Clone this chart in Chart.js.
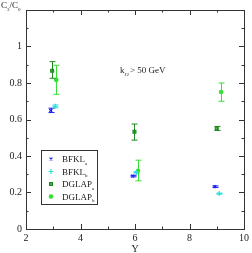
<!DOCTYPE html>
<html>
<head>
<meta charset="utf-8">
<script src="https://cdn.jsdelivr.net/npm/chart.js@4"></script>
<style>
  html, body { margin: 0; padding: 0; background: #fff; }
  #wrap { width: 252px; height: 253px; }
</style>
</head>
<body>
<div id="wrap"><canvas id="c" width="252" height="253"></canvas></div>
<script>
// données
const xBFKLa = [2.91, 5.92, 8.93];
const yBFKLa = [0.650, 0.290, 0.232];
const eBFKLa = [0.012, 0.004, 0.004];

const xBFKLb = [3.07, 6.05, 9.09];
const yBFKLb = [0.672, 0.310, 0.194];
const eBFKLb = [0.008, 0.004, 0.003];

const xDGLAPa = [2.96, 5.98, 9.00];
const yDGLAPa = [0.867, 0.533, 0.551];
const hiDGLAPa = [0.917, 0.575, 0.562];
const loDGLAPa = [0.826, 0.487, 0.540];

const xDGLAPb = [3.11, 6.11, 9.16];
const yDGLAPb = [0.817, 0.319, 0.751];
const hiDGLAPb = [0.897, 0.377, 0.800];
const loDGLAPb = [0.738, 0.264, 0.700];

const xTicks = [2, 4, 6, 8, 10];
const yTicks = [0, 0.2, 0.4, 0.6, 0.8, 1];

const FONT = '"Liberation Serif", "DejaVu Serif", serif';

function pts(xs, ys, hi, lo) {
  return xs.map((x, i) => ({ x: x, y: ys[i], hi: hi[i], lo: lo[i] }));
}

const series = [
  { name: 'BFKL', sub: 'a', color: '#1a1aff', fill: '#1a1aff', style: 'crossRot', r: 2,
    data: pts(xBFKLa, yBFKLa, yBFKLa.map((v, i) => v + eBFKLa[i]), yBFKLa.map((v, i) => v - eBFKLa[i])) },
  { name: 'BFKL', sub: 'b', color: '#33dddd', fill: '#33dddd', style: 'cross', r: 2.5,
    data: pts(xBFKLb, yBFKLb, yBFKLb.map((v, i) => v + eBFKLb[i]), yBFKLb.map((v, i) => v - eBFKLb[i])) },
  { name: 'DGLAP', sub: 'a', color: '#1f8a1f', fill: '#66b866', style: 'rect', r: 2,
    data: pts(xDGLAPa, yDGLAPa, hiDGLAPa, loDGLAPa) },
  { name: 'DGLAP', sub: 'b', color: '#33e033', fill: '#33e033', style: 'circle', r: 1.7,
    data: pts(xDGLAPb, yDGLAPb, hiDGLAPb, loDGLAPb) }
];

// texte avec indice
function subText(ctx, x, y, main, sub, size) {
  ctx.font = size + 'px ' + FONT;
  ctx.fillText(main, x, y);
  const w = ctx.measureText(main).width;
  ctx.font = Math.round(size * 0.6) + 'px ' + FONT;
  ctx.fillText(sub, x + w, y + size * 0.3);
  return w + ctx.measureText(sub).width;
}

const decor = {
  id: 'decor',
  afterDatasetsDraw(chart) {
    const ctx = chart.ctx;
    const xs = chart.scales.x, ys = chart.scales.y;
    const a = chart.chartArea;

    // barres d'erreur
    chart.data.datasets.forEach((ds) => {
      ctx.save();
      ctx.strokeStyle = ds.borderColor;
      ctx.lineWidth = 1;
      ds.data.forEach(p => {
        const px = Math.round(xs.getPixelForValue(p.x)) + 0.5;
        const yh = ys.getPixelForValue(p.hi);
        const yl = ys.getPixelForValue(p.lo);
        ctx.beginPath();
        ctx.moveTo(px, yh); ctx.lineTo(px, yl);
        ctx.moveTo(px - 3, yh); ctx.lineTo(px + 3, yh);
        ctx.moveTo(px - 3, yl); ctx.lineTo(px + 3, yl);
        ctx.stroke();
      });
      ctx.restore();
    });

    // cadre et graduations internes
    ctx.save();
    ctx.strokeStyle = '#333';
    ctx.lineWidth = 1;
    ctx.strokeRect(Math.round(a.left) + 0.5, Math.round(a.top) + 0.5,
      Math.round(a.right - a.left), Math.round(a.bottom - a.top));
    ctx.beginPath();
    for (let v = 2; v <= 10; v += 1) {
      const px = Math.round(xs.getPixelForValue(v)) + 0.5;
      const len = v % 2 === 0 ? 5 : 2.5;
      ctx.moveTo(px, a.bottom); ctx.lineTo(px, a.bottom - len);
      ctx.moveTo(px, a.top); ctx.lineTo(px, a.top + len);
    }
    for (let k = 0; k <= 12; k++) {
      const py = Math.round(ys.getPixelForValue(k / 10)) + 0.5;
      const len = k % 2 === 0 ? 5 : 2.5;
      ctx.moveTo(a.left, py); ctx.lineTo(a.left + len, py);
      ctx.moveTo(a.right, py); ctx.lineTo(a.right - len, py);
    }
    ctx.stroke();

    // titres
    ctx.fillStyle = '#222';
    ctx.textBaseline = 'alphabetic';
    ctx.textAlign = 'left';
    let w = subText(ctx, 1, 8, 'C', '3', 9);
    ctx.font = '9px ' + FONT;
    ctx.fillText('/', 1 + w, 8);
    const w2 = ctx.measureText('/').width;
    subText(ctx, 1 + w + w2, 8, 'C', '0', 9);

    ctx.font = '10px ' + FONT;
    ctx.textAlign = 'center';
    ctx.fillText('Y', (a.left + a.right) / 2, 252);
    ctx.textAlign = 'left';

    // annotation
    let aw = subText(ctx, 120, 73, 'k', 'J', 9);
    ctx.font = '5px ' + FONT;
    ctx.fillText('2', 120 + aw, 76);
    ctx.font = '9px ' + FONT;
    ctx.fillText('> 50 GeV', 130, 73);

    // légende
    ctx.strokeStyle = '#333';
    ctx.fillStyle = '#fff';
    ctx.fillRect(41.5, 150.5, 56, 54);
    ctx.strokeRect(41.5, 150.5, 56, 54);
    const rows = [159, 171.5, 184, 196.5];
    series.forEach((s, i) => {
      ctx.save();
      ctx.fillStyle = s.fill; ctx.strokeStyle = s.color; ctx.lineWidth = 1.2;
      Chart.helpers.drawPoint(ctx, { pointStyle: s.style, radius: s.r, borderWidth: 1.2 }, 51, rows[i]);
      ctx.restore();
      ctx.fillStyle = '#222';
      subText(ctx, 62, rows[i] + 3, s.name, s.sub, 9);
    });
    ctx.restore();
  }
};

new Chart(document.getElementById('c').getContext('2d'), {
  type: 'scatter',
  data: {
    datasets: series.map(s => ({
      label: s.name + s.sub,
      data: s.data,
      pointStyle: s.style,
      pointRadius: s.r,
      pointBorderWidth: 1.2,
      borderColor: s.color,
      backgroundColor: s.fill
    }))
  },
  options: {
    responsive: false,
    animation: false,
    devicePixelRatio: 1,
    layout: { padding: { top: 10, right: 7, left: 0, bottom: 0 } },
    plugins: { legend: { display: false }, tooltip: { enabled: false } },
    scales: {
      x: {
        type: 'linear', min: 2, max: 10,
        afterBuildTicks: sc => { sc.ticks = xTicks.map(v => ({ value: v })); },
        afterFit: sc => { sc.height = 24; },
        grid: { display: false, drawTicks: false },
        border: { display: false },
        ticks: { padding: 3, color: '#222', font: { family: FONT, size: 10 }, maxRotation: 0 }
      },
      y: {
        type: 'linear', min: 0, max: 1.2,
        afterBuildTicks: sc => { sc.ticks = yTicks.map(v => ({ value: v })); },
        afterFit: sc => { sc.width = 26; },
        grid: { display: false, drawTicks: false },
        border: { display: false },
        ticks: { padding: 4, color: '#222', font: { family: FONT, size: 10 },
          callback: v => String(Math.round(v * 10) / 10) }
      }
    }
  },
  plugins: [decor]
});
</script>
</body>
</html>
